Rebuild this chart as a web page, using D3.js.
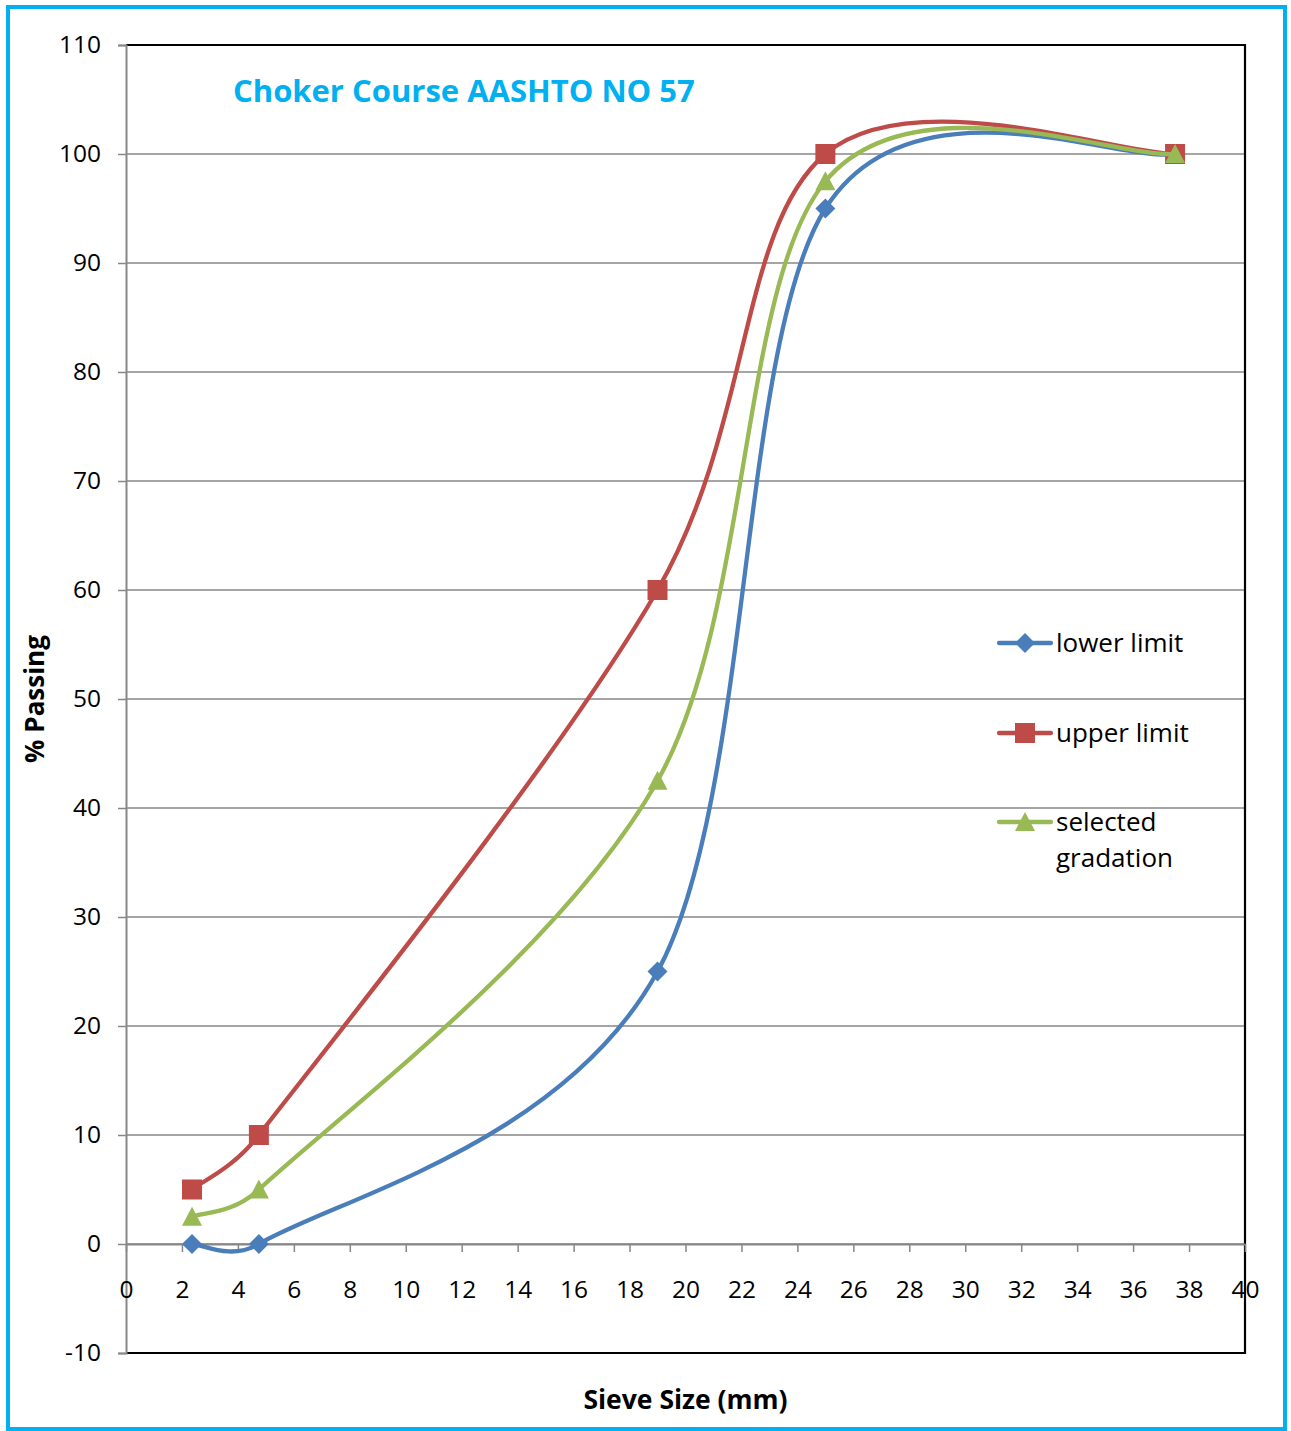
<!DOCTYPE html>
<html>
<head>
<meta charset="utf-8">
<script src="https://cdn.jsdelivr.net/npm/d3@7"></script>
<style>
  html, body { margin: 0; padding: 0; background: #fff; }
  svg { display: block; }
  text { font-family: "Open Sans", "DejaVu Sans", sans-serif; }
</style>
</head>
<body>
<svg id="chart" width="1291" height="1431"></svg>
<script>
// Sieve sizes (mm) and percent passing for each gradation band
const sieveSizes = [2.36, 4.75, 19, 25, 37.5];
const lowerLimit = [0, 0, 25, 95, 100];
const upperLimit = [5, 10, 60, 100, 100];
const selectedGradation = [2.5, 5, 42.5, 97.5, 100];

const seriesNames = ["lower limit", "upper limit", "selected gradation"];
const seriesColors = ["#4A7EBB", "#BE4B48", "#98B954"];
const seriesSymbols = ["diamond", "square", "triangle"];

const xTicks = d3.range(0, 41, 2);
const yTicks = d3.range(-10, 111, 10);

const chartTitle = "Choker Course AASHTO NO 57";
const xTitle = "Sieve Size (mm)";
const yTitle = "% Passing";

const svg = d3.select("#chart");
const plot = { left: 126, right: 1245, top: 45, bottom: 1353 };

const x = d3.scaleLinear().domain([0, 40]).range([plot.left, plot.right]);
const y = d3.scaleLinear().domain([-10, 110]).range([plot.bottom, plot.top]);

// Plain hyphen-minus for negative tick labels
const tickFmt = d => String(d);

// Outer frame
svg.append("rect")
  .attr("x", 8).attr("y", 7).attr("width", 1277).attr("height", 1422)
  .attr("fill", "none").attr("stroke", "#00B0F0").attr("stroke-width", 4);

// Horizontal gridlines
svg.append("g")
  .selectAll("line")
  .data(yTicks)
  .join("line")
  .attr("x1", plot.left).attr("x2", plot.right)
  .attr("y1", d => y(d)).attr("y2", d => y(d))
  .attr("stroke", "#878787").attr("stroke-width", 1.5);

// Plot area border (top, right, bottom)
svg.append("path")
  .attr("d", `M${plot.left},${plot.top}H${plot.right}V${plot.bottom}H${plot.left}`)
  .attr("fill", "none").attr("stroke", "#000").attr("stroke-width", 2.2);

// Y axis
const yAxis = svg.append("g")
  .attr("transform", `translate(${plot.left},0)`)
  .call(d3.axisLeft(y).tickValues(yTicks).tickFormat(tickFmt).tickSize(8).tickPadding(17));
yAxis.select(".domain").attr("stroke", "#878787").attr("stroke-width", 2);
yAxis.selectAll(".tick line").attr("stroke", "#878787").attr("stroke-width", 1.5);
yAxis.selectAll(".tick text")
  .attr("font-size", 24.5).attr("fill", "#000")
  .attr("font-family", "'Open Sans', sans-serif");

// X axis crossing at y = 0
const xAxis = svg.append("g")
  .attr("transform", `translate(0,${y(0)})`)
  .call(d3.axisBottom(x).tickValues(xTicks).tickFormat(tickFmt).tickSize(8).tickSizeOuter(0).tickPadding(29));
xAxis.select(".domain").attr("stroke", "#878787").attr("stroke-width", 2);
xAxis.selectAll(".tick line").attr("stroke", "#878787").attr("stroke-width", 1.5);
xAxis.selectAll(".tick text")
  .attr("font-size", 24.5).attr("fill", "#000")
  .attr("font-family", "'Open Sans', sans-serif");

// Excel-style smoothed line: cubic Bezier with tangents (P[i+1]-P[i-1])/6,
// each control offset capped at half of its segment length.
function excelSmooth(context) {
  let pts = [];
  return {
    lineStart() { pts = []; },
    lineEnd() {
      const n = pts.length;
      if (!n) return;
      context.moveTo(pts[0][0], pts[0][1]);
      for (let i = 0; i < n - 1; i++) {
        const p0 = pts[Math.max(i - 1, 0)], p1 = pts[i], p2 = pts[i + 1], p3 = pts[Math.min(i + 2, n - 1)];
        const seg = Math.hypot(p2[0] - p1[0], p2[1] - p1[1]);
        const cap = (dx, dy) => {
          const m = Math.hypot(dx, dy);
          const lim = seg / 2;
          return m > lim ? [dx * lim / m, dy * lim / m] : [dx, dy];
        };
        const a = cap((p2[0] - p0[0]) / 6, (p2[1] - p0[1]) / 6);
        const b = cap((p3[0] - p1[0]) / 6, (p3[1] - p1[1]) / 6);
        context.bezierCurveTo(p1[0] + a[0], p1[1] + a[1], p2[0] - b[0], p2[1] - b[1], p2[0], p2[1]);
      }
    },
    areaStart() {}, areaEnd() {},
    point(px, py) { pts.push([+px, +py]); }
  };
}

const line = d3.line()
  .x(d => x(d[0]))
  .y(d => y(d[1]))
  .curve(excelSmooth);

// Marker shapes: size is the bounding-box width in pixels
const markerTypes = {
  diamond: { draw(ctx, s) { const r = s / 2; ctx.moveTo(0, -r); ctx.lineTo(r, 0); ctx.lineTo(0, r); ctx.lineTo(-r, 0); ctx.closePath(); } },
  square: { draw(ctx, s) { const r = s / 2; ctx.rect(-r, -r, s, s); } },
  triangle: { draw(ctx, s) { const r = s / 2; ctx.moveTo(0, -r); ctx.lineTo(r, r * 0.9); ctx.lineTo(-r, r * 0.9); ctx.closePath(); } }
};
const markerSizes = { diamond: 20, square: 20, triangle: 20 };

const seriesValues = [lowerLimit, upperLimit, selectedGradation];

function drawMarker(g, cx, cy, i) {
  const s = seriesSymbols[i];
  const sym = d3.symbol().type(markerTypes[s]).size(markerSizes[s]);
  g.append("path")
    .attr("d", sym())
    .attr("transform", `translate(${cx},${cy})`)
    .attr("fill", seriesColors[i]);
}

seriesValues.forEach((vals, i) => {
  const data = sieveSizes.map((s, k) => [s, vals[k]]);
  const g = svg.append("g");
  g.append("path")
    .datum(data)
    .attr("d", line)
    .attr("fill", "none")
    .attr("stroke", seriesColors[i])
    .attr("stroke-width", 4.3)
    .attr("stroke-linecap", "round");
  data.forEach(d => drawMarker(g, x(d[0]), y(d[1]), i));
});

// Legend
const legendRows = [643, 733, 822];
seriesNames.forEach((name, i) => {
  const g = svg.append("g");
  const cy = legendRows[i];
  g.append("line")
    .attr("x1", 999).attr("x2", 1051).attr("y1", cy).attr("y2", cy)
    .attr("stroke", seriesColors[i]).attr("stroke-width", 4.3).attr("stroke-linecap", "round");
  drawMarker(g, 1025, cy, i);
  const words = name === "selected gradation" ? ["selected", "gradation"] : [name];
  words.forEach((w, k) => {
    g.append("text")
      .attr("x", 1056).attr("y", cy + k * 36)
      .attr("dy", "0.35em")
      .attr("font-size", 26).attr("fill", "#000")
      .text(w);
  });
});

// Chart title
svg.append("text")
  .attr("x", 233).attr("y", 91).attr("dy", "0.35em")
  .attr("font-size", 31).attr("font-weight", "bold").attr("fill", "#00B0F0")
  .text(chartTitle);

// Axis titles
svg.append("text")
  .attr("x", (plot.left + plot.right) / 2).attr("y", 1400).attr("dy", "0.35em")
  .attr("text-anchor", "middle")
  .attr("font-size", 26.5).attr("font-weight", "bold").attr("fill", "#000")
  .text(xTitle);

svg.append("text")
  .attr("transform", `translate(35,${(plot.top + plot.bottom) / 2}) rotate(-90)`)
  .attr("dy", "0.35em")
  .attr("text-anchor", "middle")
  .attr("font-size", 26).attr("font-weight", "bold").attr("fill", "#000")
  .text(yTitle);
</script>
</body>
</html>
